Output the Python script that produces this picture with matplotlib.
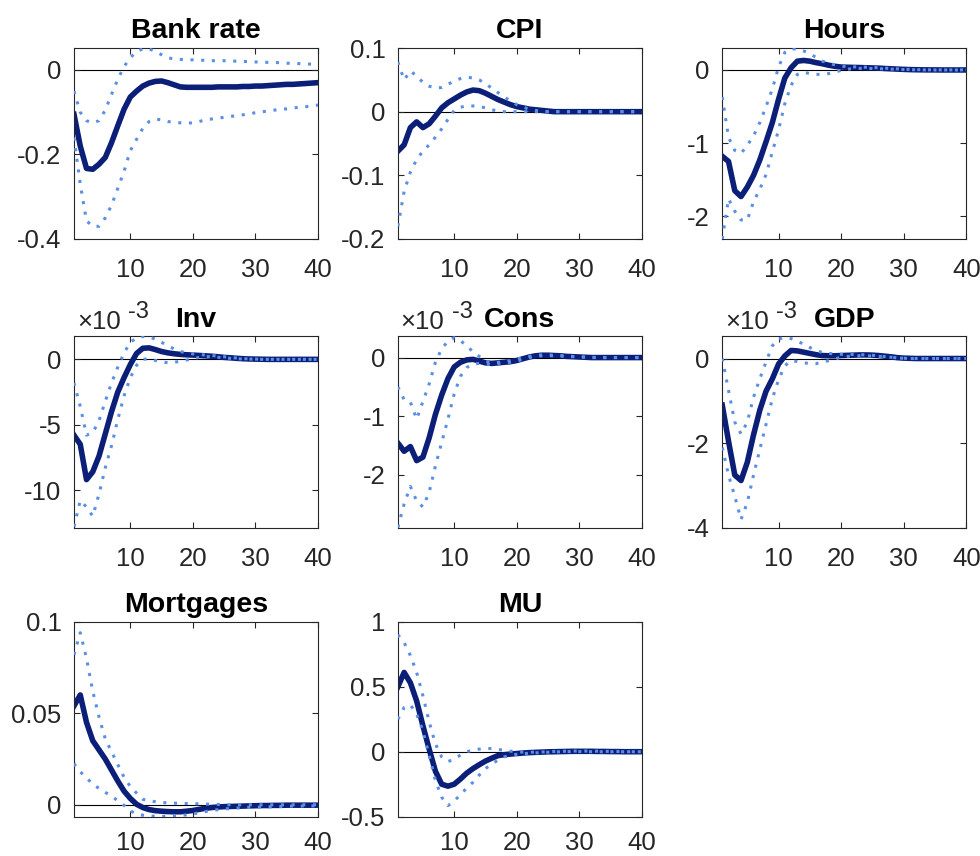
import matplotlib

matplotlib.use("Agg")
import matplotlib.pyplot as plt
from matplotlib.ticker import FuncFormatter

plt.rcParams["font.family"] = ["Liberation Sans", "DejaVu Sans"]
plt.rcParams["axes.unicode_minus"] = False

# impulse responses over 40 quarters: median and the two band edges
horizon = list(range(1, 41))

bank_rate = [-0.105, -0.18, -0.233, -0.235, -0.223, -0.207, -0.172, -0.132, -0.093, -0.064,
             -0.05, -0.038, -0.031, -0.027, -0.026, -0.03, -0.035, -0.04, -0.041, -0.041,
             -0.041, -0.041, -0.041, -0.04, -0.04, -0.04, -0.04, -0.039, -0.039, -0.038,
             -0.038, -0.037, -0.036, -0.035, -0.034, -0.034, -0.033, -0.032, -0.031, -0.030]
bank_rate_hi = [-0.05, -0.10, -0.12, -0.125, -0.12, -0.095, -0.058, -0.022, 0.008, 0.029,
                0.044, 0.05, 0.05, 0.044, 0.036, 0.029, 0.026, 0.025, 0.024, 0.024,
                0.023, 0.023, 0.022, 0.022, 0.022, 0.021, 0.021, 0.020, 0.020, 0.019,
                0.019, 0.018, 0.018, 0.017, 0.016, 0.016, 0.015, 0.014, 0.014, 0.013]
bank_rate_lo = [-0.16, -0.27, -0.357, -0.37, -0.37, -0.35, -0.32, -0.28, -0.24, -0.191,
                -0.164, -0.138, -0.122, -0.116, -0.118, -0.122, -0.124, -0.125, -0.126, -0.125,
                -0.122, -0.118, -0.116, -0.114, -0.112, -0.110, -0.108, -0.106, -0.104, -0.101,
                -0.099, -0.097, -0.095, -0.093, -0.092, -0.090, -0.088, -0.087, -0.085, -0.083]

cpi = [-0.062, -0.052, -0.025, -0.016, -0.025, -0.019, -0.007, 0.006, 0.014, 0.02,
       0.026, 0.031, 0.034, 0.033, 0.029, 0.024, 0.019, 0.015, 0.011, 0.008,
       0.006, 0.004, 0.003, 0.002, 0.001, 0.0, 0.0, 0.0, 0.0, 0.0,
       0.0, 0.0, 0.0, 0.0, 0.0, 0.0, 0.0, 0.0, 0.0, 0.0]
cpi_hi = [0.078, 0.05, 0.064, 0.056, 0.046, 0.04, 0.037, 0.038, 0.043, 0.048,
          0.052, 0.054, 0.053, 0.05, 0.044, 0.037, 0.03, 0.023, 0.017, 0.011,
          0.007, 0.004, 0.002, 0.001, 0.0, 0.0, 0.0, 0.0, 0.0, 0.0,
          0.0, 0.0, 0.0, 0.0, 0.0, 0.0, 0.0, 0.0, 0.0, 0.0]
cpi_lo = [-0.18, -0.125, -0.095, -0.075, -0.062, -0.052, -0.04, -0.027, -0.012, 0.002,
          0.007, 0.009, 0.009, 0.008, 0.006, 0.003, 0.001, 0.0, 0.0, 0.0,
          0.0, 0.0, 0.0, 0.0, 0.0, 0.0, 0.0, 0.0, 0.0, 0.0,
          0.0, 0.0, 0.0, 0.0, 0.0, 0.0, 0.0, 0.0, 0.0, 0.0]

hours = [-1.18, -1.25, -1.65, -1.73, -1.6, -1.44, -1.23, -0.98, -0.72, -0.4,
         -0.11, 0.03, 0.12, 0.13, 0.12, 0.1, 0.085, 0.065, 0.05, 0.04,
         0.037, 0.035, 0.033, 0.03, 0.028, 0.025, 0.02, 0.016, 0.012, 0.008,
         0.005, 0.003, 0.002, 0.001, 0.001, 0.0, 0.0, 0.0, 0.0, 0.0]
hours_hi = [-0.37, -0.92, -1.1, -1.14, -1.03, -0.9, -0.72, -0.5, -0.26, 0.04,
            0.24, 0.29, 0.285, 0.26, 0.225, 0.17, 0.12, 0.095, 0.07, 0.05,
            0.045, 0.042, 0.04, 0.037, 0.034, 0.03, 0.025, 0.02, 0.015, 0.01,
            0.007, 0.005, 0.003, 0.002, 0.001, 0.001, 0.001, 0.001, 0.001, 0.001]
hours_lo = [-2.31, -1.76, -1.93, -2.05, -2.05, -1.8, -1.63, -1.43, -1.12, -0.82,
            -0.46, -0.21, -0.06, -0.03, -0.05, -0.06, -0.06, -0.05, -0.03, -0.005,
            0.01, 0.02, 0.022, 0.022, 0.02, 0.018, 0.015, 0.012, 0.009, 0.006,
            0.004, 0.002, 0.001, 0.0, 0.0, 0.0, 0.0, 0.0, 0.0, 0.0]

# Inv, Cons and GDP are in units of 1e-3
inv = [-5.8, -6.5, -9.2, -8.6, -7.4, -5.7, -4.0, -2.5, -1.4, -0.4,
       0.45, 0.85, 0.88, 0.75, 0.6, 0.5, 0.43, 0.38, 0.35, 0.33,
       0.3, 0.27, 0.24, 0.2, 0.15, 0.12, 0.08, 0.05, 0.03, 0.02,
       0.01, 0.0, 0.0, 0.0, 0.0, 0.0, 0.0, 0.0, 0.0, 0.0]
inv_hi = [-1.8, -3.6, -5.8, -5.6, -4.7, -3.2, -1.8, -0.6, 0.5, 1.3,
          1.65, 1.75, 1.72, 1.55, 1.3, 1.05, 0.8, 0.6, 0.5, 0.42,
          0.38, 0.33, 0.3, 0.25, 0.2, 0.15, 0.1, 0.06, 0.03, 0.02,
          0.01, 0.0, 0.0, 0.0, 0.0, 0.0, 0.0, 0.0, 0.0, 0.0]
inv_lo = [-12.8, -10.8, -11.3, -12.0, -10.3, -8.3, -6.6, -4.6, -2.8, -1.4,
          -0.45, 0.0, 0.05, -0.08, -0.2, -0.25, -0.22, -0.15, -0.05, 0.05,
          0.15, 0.22, 0.2, 0.16, 0.12, 0.08, 0.05, 0.03, 0.02, 0.01,
          0.0, 0.0, 0.0, 0.0, 0.0, 0.0, 0.0, 0.0, 0.0, 0.0]

cons = [-1.46, -1.6, -1.52, -1.76, -1.7, -1.37, -0.97, -0.64, -0.36, -0.16,
        -0.08, -0.04, -0.03, -0.06, -0.09, -0.1, -0.09, -0.08, -0.07, -0.05,
        -0.02, 0.01, 0.03, 0.04, 0.04, 0.035, 0.03, 0.02, 0.015, 0.01,
        0.005, 0.0, 0.0, 0.0, 0.0, 0.0, 0.0, 0.0, 0.0, 0.0]
cons_hi = [-0.5, -0.72, -0.76, -1.05, -0.75, -0.45, -0.08, 0.15, 0.28, 0.34,
           0.29, 0.2, 0.1, 0.02, -0.06, -0.09, -0.08, -0.07, -0.05, -0.03,
           0.0, 0.02, 0.04, 0.045, 0.045, 0.04, 0.035, 0.025, 0.02, 0.015,
           0.01, 0.005, 0.0, 0.0, 0.0, 0.0, 0.0, 0.0, 0.0, 0.0]
cons_lo = [-2.9, -2.5, -2.2, -2.45, -2.55, -2.3, -1.85, -1.45, -1.05, -0.62,
           -0.32, -0.17, -0.11, -0.1, -0.11, -0.12, -0.1, -0.09, -0.08, -0.06,
           -0.03, 0.0, 0.02, 0.03, 0.03, 0.03, 0.025, 0.02, 0.015, 0.01,
           0.005, 0.0, 0.0, 0.0, 0.0, 0.0, 0.0, 0.0, 0.0, 0.0]

gdp = [-1.1, -1.95, -2.75, -2.88, -2.45, -1.8, -1.22, -0.77, -0.48, -0.13,
       0.06, 0.19, 0.18, 0.15, 0.12, 0.09, 0.07, 0.065, 0.065, 0.07,
       0.075, 0.08, 0.085, 0.085, 0.08, 0.07, 0.055, 0.04, 0.02, 0.01,
       0.005, 0.0, 0.0, 0.0, 0.0, 0.0, 0.0, 0.0, 0.0, 0.0]
gdp_hi = [0.0, -0.75, -1.5, -1.78, -1.5, -0.91, -0.48, -0.08, 0.3, 0.46,
          0.5, 0.47, 0.41, 0.34, 0.26, 0.19, 0.14, 0.12, 0.11, 0.1,
          0.1, 0.095, 0.09, 0.085, 0.075, 0.06, 0.045, 0.03, 0.015, 0.008,
          0.0, 0.0, 0.0, 0.0, 0.0, 0.0, 0.0, 0.0, 0.0, 0.0]
gdp_lo = [-2.1, -2.75, -3.25, -3.8, -3.4, -2.75, -2.15, -1.55, -0.95, -0.5,
          -0.17, -0.05, -0.07, -0.1, -0.12, -0.12, -0.09, -0.05, -0.01, 0.03,
          0.05, 0.06, 0.065, 0.065, 0.06, 0.05, 0.04, 0.03, 0.015, 0.005,
          0.0, 0.0, 0.0, 0.0, 0.0, 0.0, 0.0, 0.0, 0.0, 0.0]

mortgages = [0.054, 0.06, 0.045, 0.035, 0.03, 0.025, 0.019, 0.013, 0.0075, 0.0035,
             0.0003, -0.0015, -0.0026, -0.0032, -0.0035, -0.0037, -0.0038, -0.0038, -0.0035, -0.0031,
             -0.0025, -0.0019, -0.0015, -0.0012, -0.001, -0.0009, -0.0008, -0.0007, -0.0006, -0.0005,
             -0.0004, -0.0004, -0.0003, -0.0003, -0.0002, -0.0002, -0.0002, -0.0002, -0.0002, -0.0002]
mortgages_hi = [0.082, 0.094, 0.08, 0.062, 0.048, 0.036, 0.029, 0.022, 0.015, 0.01,
                0.0064, 0.003, 0.0022, 0.0017, 0.0013, 0.001, 0.0009, 0.0008, 0.0007, 0.0006,
                0.0005, 0.0004, 0.0003, 0.0002, 0.0001, 0.0, 0.0, 0.0, 0.0, 0.0,
                0.0, 0.0, 0.0, 0.0, 0.0, 0.0, 0.0, 0.0, 0.0, 0.0]
mortgages_lo = [0.0225, 0.018, 0.0148, 0.0112, 0.009, 0.0068, 0.0048, 0.0022, -0.0003, -0.0033,
                -0.005, -0.0057, -0.006, -0.0063, -0.0064, -0.0062, -0.006, -0.0058, -0.0055, -0.005,
                -0.0043, -0.0037, -0.0031, -0.0027, -0.0023, -0.002, -0.0018, -0.0016, -0.0014, -0.0013,
                -0.0012, -0.0011, -0.001, -0.0009, -0.0008, -0.0007, -0.0007, -0.0006, -0.0006, -0.0005]

mu = [0.5, 0.61, 0.53, 0.39, 0.2, 0.02, -0.15, -0.25, -0.265, -0.25,
      -0.21, -0.165, -0.13, -0.1, -0.072, -0.05, -0.03, -0.023, -0.018, -0.014,
      -0.01, -0.007, -0.005, -0.003, -0.001, 0.0, 0.001, 0.002, 0.003, 0.003,
      0.003, 0.003, 0.002, 0.002, 0.001, 0.001, 0.0, 0.0, 0.0, 0.0]
mu_hi = [0.9, 0.84, 0.74, 0.61, 0.43, 0.23, 0.06, -0.04, -0.075, -0.06,
         -0.025, 0.0, 0.012, 0.02, 0.025, 0.024, 0.018, 0.01, 0.004, 0.0,
         -0.003, -0.004, -0.003, -0.002, 0.0, 0.002, 0.003, 0.004, 0.005, 0.005,
         0.005, 0.004, 0.004, 0.003, 0.002, 0.002, 0.001, 0.0, 0.0, 0.0]
mu_lo = [0.25, 0.34, 0.36, 0.29, 0.16, -0.03, -0.22, -0.35, -0.415, -0.38,
         -0.33, -0.28, -0.235, -0.18, -0.13, -0.095, -0.065, -0.04, -0.028, -0.02,
         -0.015, -0.012, -0.009, -0.006, -0.004, -0.002, 0.0, 0.001, 0.001, 0.001,
         0.0, 0.0, 0.0, 0.0, 0.0, 0.0, 0.0, 0.0, 0.0, 0.0]

MEDIAN_COLOR = "#0b1f78"
BAND_COLOR = "#5b8fe6"
INK = "#262626"

# title, median, lower, upper, ylim, yticks, scaled by 1e-3
PANELS = [
    ("Bank rate", bank_rate, bank_rate_lo, bank_rate_hi, (-0.4, 0.052), [-0.4, -0.2, 0], False),
    ("CPI", cpi, cpi_lo, cpi_hi, (-0.2, 0.1), [-0.2, -0.1, 0, 0.1], False),
    ("Hours", hours, hours_lo, hours_hi, (-2.31, 0.3), [-2, -1, 0], False),
    ("Inv", inv, inv_lo, inv_hi, (-12.9, 1.75), [-10, -5, 0], True),
    ("Cons", cons, cons_lo, cons_hi, (-2.91, 0.36), [-2, -1, 0], True),
    ("GDP", gdp, gdp_lo, gdp_hi, (-4, 0.52), [-4, -2, 0], True),
    ("Mortgages", mortgages, mortgages_lo, mortgages_hi, (-0.0065, 0.1), [0, 0.05, 0.1], False),
    ("MU", mu, mu_lo, mu_hi, (-0.5, 1), [-0.5, 0, 0.5, 1], False),
]

COL_LEFT = [0.0755, 0.406, 0.737]
ROW_BOTTOM = [0.7208, 0.3832, 0.0459]
ROW_HEIGHT = [0.2231, 0.2237, 0.2278]
ROW_XPAD = [13.5, 13.5, 10.5]
WIDTH = 0.249


def draw_panel(ax, title, median, lower, upper, ylim, yticks, scaled, xpad):
    ax.axhline(0, color="black", linewidth=0.8, zorder=1)
    ax.plot(horizon, median, color=MEDIAN_COLOR, linewidth=4.0, zorder=2)
    for band in (upper, lower):
        ax.plot(horizon, band, color=BAND_COLOR, linewidth=2.2,
                linestyle=(0, (1, 2.5)), zorder=3)

    ax.set_xlim(1, 40)
    ax.set_ylim(*ylim)
    ax.set_xticks([10, 20, 30, 40])
    ax.set_yticks(yticks)
    ax.yaxis.set_major_formatter(FuncFormatter(lambda v, _: f"{round(v, 6):g}"))
    ax.tick_params(direction="in", top=True, right=True, length=4, width=0.8,
                   colors=INK, labelsize=18.5)
    ax.tick_params(axis="x", pad=xpad)
    ax.tick_params(axis="y", pad=9)
    for spine in ax.spines.values():
        spine.set_color(INK)
        spine.set_linewidth(0.8)
    ax.set_title(title, fontsize=20.5, fontweight="bold", pad=7)

    if scaled:
        ax.annotate("\u00d710", xy=(0, 1), xycoords="axes fraction", xytext=(2, 5.5),
                    textcoords="offset points", fontsize=18.5, color=INK, va="baseline")
        ax.annotate("-3", xy=(0, 1), xycoords="axes fraction", xytext=(39, 13),
                    textcoords="offset points", fontsize=17, color=INK, va="baseline")


fig = plt.figure(figsize=(9.8, 8.56), dpi=100)
for i, (title, median, lower, upper, ylim, yticks, scaled) in enumerate(PANELS):
    row, col = divmod(i, 3)
    ax = fig.add_axes([COL_LEFT[col], ROW_BOTTOM[row], WIDTH, ROW_HEIGHT[row]])
    draw_panel(ax, title, median, lower, upper, ylim, yticks, scaled, ROW_XPAD[row])

fig.savefig("out.png", dpi=100)
